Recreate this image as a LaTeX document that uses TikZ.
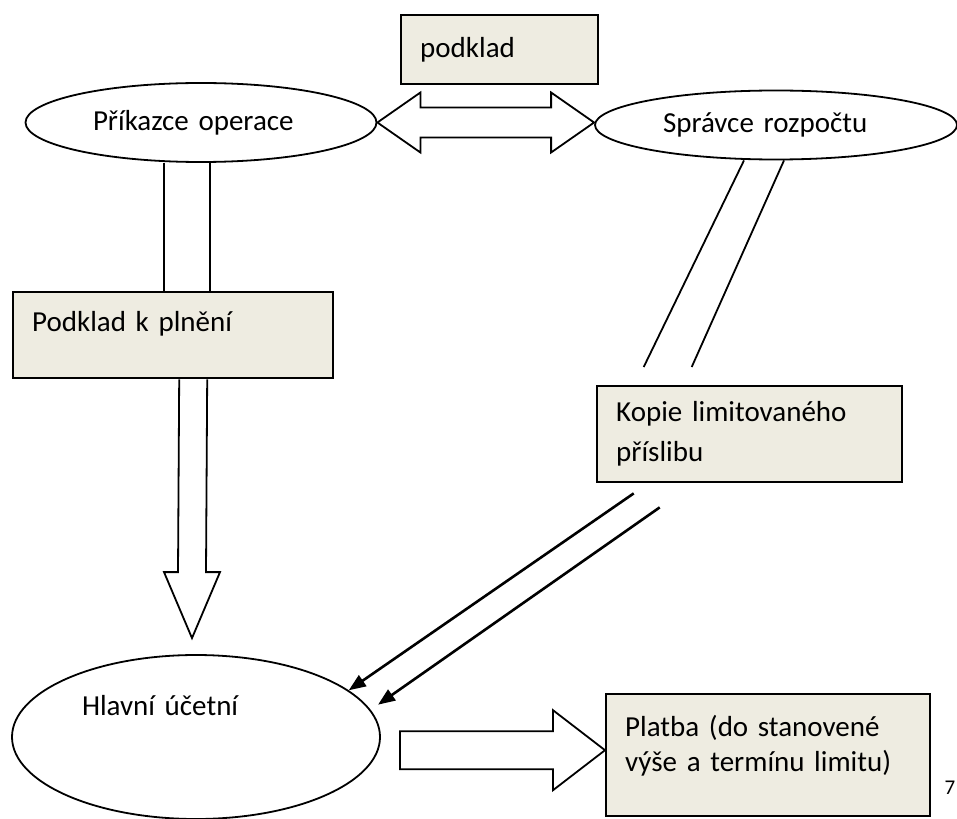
\documentclass[tikz,border=0pt]{standalone}
\usepackage{fontspec}
\setmainfont{Carlito}
\usepackage{tikz}
\usetikzlibrary{positioning, arrows.meta, shapes, calc}
\usepackage{xcolor}
\definecolor{boxfill}{HTML}{EEECE1}

\begin{document}
\begin{tikzpicture}[x=1pt, y=-1pt,
  docbox/.style={draw, line width=2.4pt, fill=boxfill, anchor=north west, align=left, inner xsep=19pt, inner ysep=0pt, font=\fontsize{29}{40}\selectfont},
  role/.style={draw, ellipse, line width=1.8pt, inner sep=0pt, align=left, font=\fontsize{29}{40}\selectfont},
  pipe/.style={line width=1.8pt},
  blockarrow/.style={draw, line width=1.8pt, line join=miter},
  copyarrow/.style={line width=2.6pt, -{Triangle[length=17pt,width=13pt]}}]
\useasboundingbox (0,0) rectangle (957,818);
\node[docbox, text width=159pt, minimum height=69pt] (podklad) at (400,14) {podklad};
\node[role, minimum width=351pt, minimum height=79pt, text width=216pt] (prikazce) at (201,122.5) {Příkazce operace};
\node[role, minimum width=362pt, minimum height=69pt, text width=226pt] (spravce) at (776,125) {Správce rozpočtu};
\node[docbox, text width=282pt, text height=39pt, text depth=47pt] (plneni) at (12,291) {Podklad k plnění};
\node[docbox, text width=267pt, minimum height=96pt] (kopie) at (596,385) {Kopie limitovaného\\příslibu};
\node[role, minimum width=368pt, minimum height=164pt, text width=228pt, text height=21pt, text depth=65pt] (hlavni) at (196,737) {Hlavní účetní};
\node[docbox, text width=286pt, minimum height=122pt, font=\fontsize{29}{35}\selectfont] (platba) at (605,693) {Platba (do stanovené\\výše a termínu limitu)\rule[-24pt]{0pt}{0pt}};
\node[font=\fontsize{21}{24}\selectfont] (strana) at (950,788) {7};
% podklad goes both ways
\coordinate (dl) at (prikazce.east);
\coordinate (dr) at (prikazce.east -| spravce.west);
\draw[blockarrow] (dl) -- ($(dl)+(43,-30)$) -- ($(dl)+(43,-15)$) -- ($(dr)+(-43,-15)$) -- ($(dr)+(-43,-30)$) -- (dr) -- ($(dr)+(-43,30)$) -- ($(dr)+(-43,15)$) -- ($(dl)+(43,15)$) -- ($(dl)+(43,30)$) -- cycle;
\draw[pipe] ([xshift=-37pt]prikazce.south) coordinate (p1) -- (p1 |- plneni.north);
\draw[pipe] ([xshift=9pt]prikazce.south) coordinate (p2) -- (p2 |- plneni.north);
\coordinate (dtop) at ([xshift=20pt]plneni.south);
\coordinate (dtip) at ([xshift=-4pt,yshift=16pt]hlavni.north);
\draw[blockarrow] ($(dtop)+(-14,0)$) -- ($(dtip)+(-14,-66)$) -- ($(dtip)+(-28,-66)$) -- (dtip) -- ($(dtip)+(28,-66)$) -- ($(dtip)+(14,-66)$) -- ($(dtop)+(14,0)$);
\draw[pipe] ([xshift=-32pt]spravce.south) -- ([xshift=-106pt,yshift=18pt]kopie.north);
\draw[pipe] ([xshift=8pt]spravce.south) -- ([xshift=-58pt,yshift=18pt]kopie.north);
% copies to the accountant
\draw[copyarrow] ([xshift=-116pt,yshift=-10pt]kopie.south) -- (hlavni.17);
\draw[copyarrow] ([xshift=-90pt,yshift=-24pt]kopie.south) -- ([shift={(10pt,2pt)}]hlavni.10);
\coordinate (rtip) at ([yshift=5pt]platba.west);
\coordinate (rtail) at ($(hlavni.east |- rtip)+(19,0)$);
\draw[blockarrow] ($(rtail)+(0,-19)$) -- ($(rtip)+(-52,-19)$) -- ($(rtip)+(-52,-40)$) -- (rtip) -- ($(rtip)+(-52,40)$) -- ($(rtip)+(-52,19)$) -- ($(rtail)+(0,19)$) -- cycle;
\end{tikzpicture}
\end{document}
